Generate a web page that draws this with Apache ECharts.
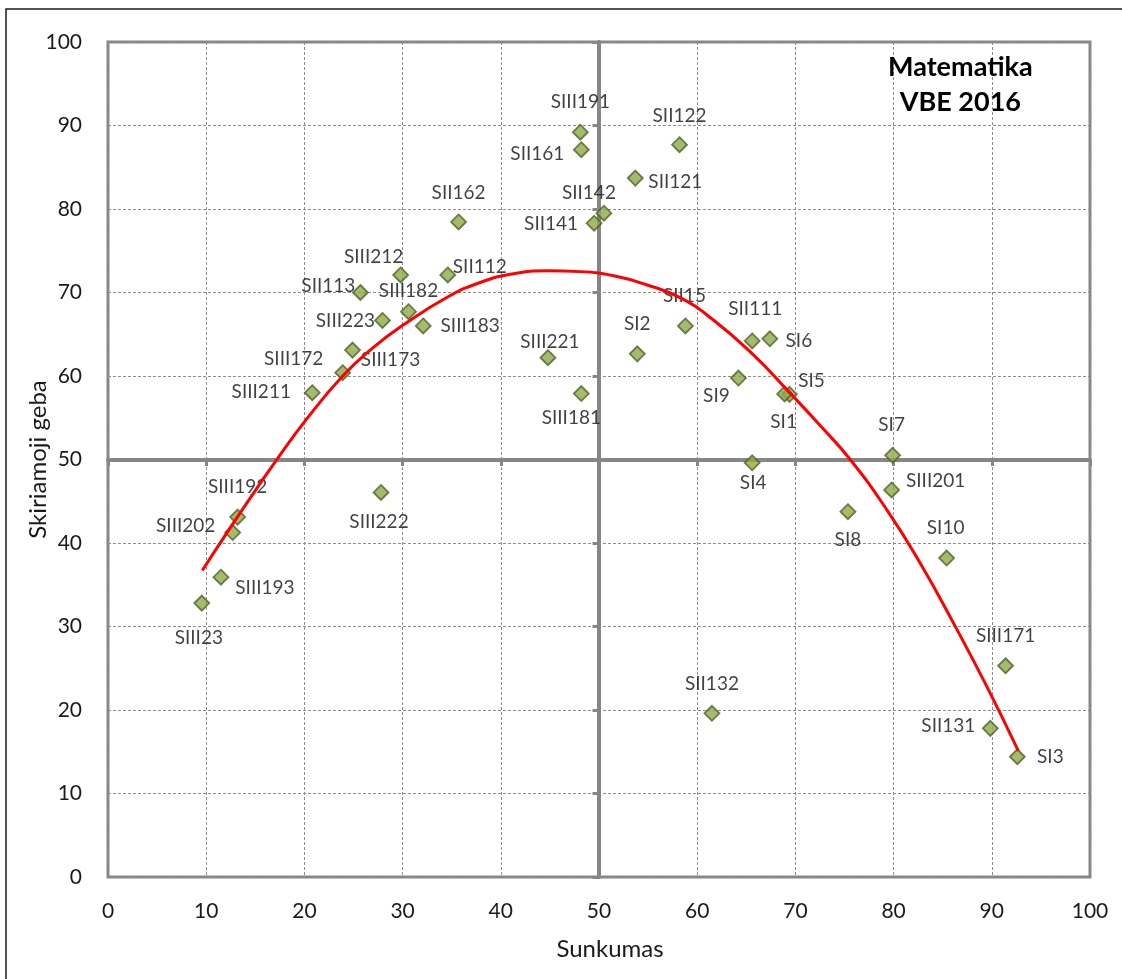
<!DOCTYPE html>
<html>
<head>
<meta charset="utf-8">
<script src="https://cdn.jsdelivr.net/npm/echarts@6/dist/echarts.min.js"></script>
<style>
html,body{margin:0;padding:0;background:#fff;}
#chart{width:1122px;height:979px;}
</style>
</head>
<body>
<div id="chart"></div>
<script>
// ---- data ----
var pointNames = ['SIII191','SII161','SII162','SII141','SII142','SIII212','SII112','SII113','SIII182','SIII223',
  'SIII183','SIII173','SIII172','SIII211','SIII221','SIII181','SII122','SII121','SII15','SII111',
  'SI6','SI2','SI9','SI5','SI1','SI7','SI4','SIII201','SI8','SI10',
  'SIII171','SII131','SI3','SII132','SIII192','SIII202','SIII193','SIII23','SIII222'];
var sunkumas = [48.1,48.2,35.7,49.5,50.5,29.8,34.6,25.7,30.6,27.95,
  32.1,24.9,23.9,20.8,44.8,48.2,58.2,53.7,58.8,65.6,
  67.4,53.9,64.2,69.4,68.9,79.9,65.6,79.8,75.35,85.4,
  91.4,89.85,92.6,61.5,13.2,12.7,11.5,9.55,27.8];
var skiriamojiGeba = [89.2,87.1,78.45,78.3,79.5,72.1,72.1,70.0,67.7,66.65,
  66.0,63.1,60.4,58.0,62.2,57.9,87.7,83.7,66.0,64.2,
  64.45,62.65,59.75,57.8,57.85,50.5,49.6,46.35,43.75,38.2,
  25.3,17.8,14.4,19.6,43.1,41.25,35.9,32.8,46.05];
// trend curve, points
var trendX = [9.6,11.7,15.1,17.1,20.2,23.9,27.0,30.05,34.5,37.9,41.3,44.7,48.1,51.5,54.9,58.3,61.65,65.7,69.1,72.5,75.6,79.3,82.7,86.1,89.5,92.7];
var trendY = [36.7,40.5,46.45,49.85,54.8,60.0,63.4,66.1,69.4,71.2,72.25,72.6,72.5,72.0,70.9,69.35,66.7,62.55,58.4,54.1,49.97,44.0,37.6,30.4,22.8,15.1];
var axisTicks = [0,10,20,30,40,50,60,70,80,90,100];

// ---- layout: label offsets (px) relative to each marker ----
var labelOffsets = [[0,-30],[-44,4],[0,-29],[-43,1],[-15,-20],[-27,-18],[32,-8],[-32,-7],[0,-21],[-37,0],
  [47,0],[38,10],[-49,-14],[-51,-1],[2,-16],[-10,24],[0,-29],[40,4],[-1,-30],[3,-32],
  [29,2],[0,-30],[-22,18],[22,-13],[-1,28],[-1,-30],[1,20],[44,-9],[0,28],[-1,-30],
  [0,-30],[-42,-2],[33,0],[0,-29],[0,-30],[-47,-7],[44,11],[-3,35],[-2,29]];

var FONT = 'Lato, "Noto Sans", sans-serif';
var GRAY = '#868686';

var scatterData = pointNames.map(function(n,i){
  return {name:n, value:[sunkumas[i], skiriamojiGeba[i]]};
});
var trendData = trendX.map(function(x,i){ return [x, trendY[i]]; });

var chart = echarts.init(document.getElementById('chart'), null, {renderer:'canvas'});
var tickMin = axisTicks[0], tickMax = axisTicks[axisTicks.length-1], tickStep = axisTicks[1]-axisTicks[0];

chart.setOption({
  backgroundColor:'#fff',
  animation:false,
  graphic:[
    {type:'rect', z:-10, shape:{x:6,y:9,width:1300,height:1200}, style:{fill:null, stroke:'#1a1a1a', lineWidth:1.5}},
    {type:'text', left:888, top:50, z:10, style:{text:'Matematika\nVBE 2016', font:'bold 27px '+FONT, fill:'#000', textAlign:'center', lineHeight:35, x:74}}
  ],
  grid:{left:108, right:32, top:42, bottom:102, show:true, borderColor:GRAY, borderWidth:3, backgroundColor:'#fff'},
  xAxis:[
    {type:'value', min:tickMin, max:tickMax, interval:tickStep, position:'bottom',
     name:'Sunkumas', nameLocation:'middle', nameGap:60, nameMoveOverlap:false,
     nameTextStyle:{fontFamily:FONT, fontSize:24, color:'#1a1a1a', padding:[0,0,0,22]},
     axisLine:{show:false}, axisTick:{show:false},
     axisLabel:{fontFamily:FONT, fontSize:21, color:'#1a1a1a', margin:24},
     splitLine:{show:true, lineStyle:{color:'#8c8c8c', type:[3,2], width:1}}},
    {type:'value', min:tickMin, max:tickMax, interval:tickStep, position:'bottom', offset:-417,
     axisLine:{show:true, onZero:false, lineStyle:{color:GRAY, width:4}},
     axisTick:{show:true, inside:false, length:6, lineStyle:{color:GRAY, width:3}},
     axisLabel:{show:false}, splitLine:{show:false}}
  ],
  yAxis:[
    {type:'value', min:tickMin, max:tickMax, interval:tickStep, position:'left',
     name:'Skiriamoji geba', nameLocation:'middle', nameGap:58, nameMoveOverlap:false,
     nameTextStyle:{fontFamily:FONT, fontSize:24, color:'#1a1a1a'},
     axisLine:{show:false}, axisTick:{show:false},
     axisLabel:{fontFamily:FONT, fontSize:21, color:'#1a1a1a', margin:26},
     splitLine:{show:true, lineStyle:{color:'#8c8c8c', type:[3,2], width:1}}},
    {type:'value', min:tickMin, max:tickMax, interval:tickStep, position:'left', offset:-490.5,
     axisLine:{show:true, onZero:false, lineStyle:{color:GRAY, width:4}},
     axisTick:{show:true, inside:false, length:6, lineStyle:{color:GRAY, width:3}},
     axisLabel:{show:false}, splitLine:{show:false}}
  ],
  series:[
    {type:'scatter', xAxisIndex:0, yAxisIndex:0, z:3,
     symbol:'diamond', symbolSize:15,
     itemStyle:{color:'#8DAA48', borderColor:'#4F6228', borderWidth:1.8},
     label:{show:true, position:'inside', formatter:'{b}', fontFamily:FONT, fontSize:19, color:'#111'},
     labelLayout:function(p){
       var o = labelOffsets[p.dataIndex] || [0,0];
       return {dx:o[0], dy:o[1], hideOverlap:false};
     },
     data:scatterData},
    {type:'line', xAxisIndex:0, yAxisIndex:0, z:4, smooth:true, showSymbol:false, symbol:'none',
     lineStyle:{color:'#ff0000', width:3}, data:trendData, silent:true}
  ]
});
</script>
</body>
</html>
